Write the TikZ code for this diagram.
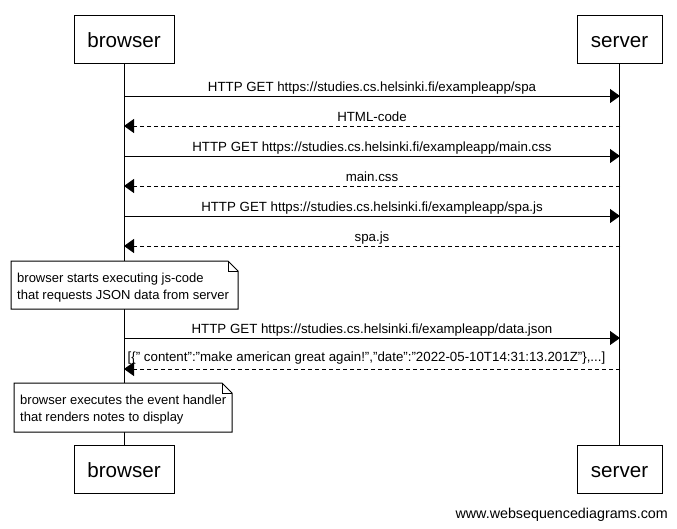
\documentclass[tikz,border=0pt]{standalone}
\usepackage{fontspec}
\setmainfont{Liberation Sans}
\usetikzlibrary{arrows.meta}
\begin{document}
\begin{tikzpicture}[x=1pt,y=-1pt,
  actor/.style={draw,line width=1pt,fill=white,minimum width=100pt,minimum height=48pt,inner sep=0pt,text height=20pt,text depth=4pt,font=\fontsize{20.6}{24}\selectfont},
  msg/.style={line width=1pt,-{Triangle[length=10pt,width=14pt]}},
  reply/.style={msg,dash pattern=on 4pt off 3pt},
  lbl/.style={anchor=base,inner sep=0pt,font=\fontsize{13.3}{15}\selectfont},
  notebox/.style={draw,line width=1pt,fill=white},
  notetxt/.style={anchor=north west,inner sep=0pt,align=left,font=\fontsize{13}{16.5}\selectfont},
  life/.style={line width=1pt}]
\useasboundingbox (0,0) rectangle (677,528);
% actors
\node[actor] (bt) at (124,39) {browser};
\node[actor,minimum width=85pt] (st) at (619.5,39) {server};
\node[actor] (bb) at (124,469) {browser};
\node[actor,minimum width=85pt] (sb) at (619.5,469) {server};
% lifelines
\draw[life] (bt.south) -- (bb.north);
\draw[life] (st.south) -- (sb.north);
% message coordinates
\foreach \n/\y in {1/96,2/126,3/156,4/186,5/216,6/246,7/338,8/369}{
  \coordinate (b\n) at (124,\y);
  \coordinate (s\n) at (620,\y);
}
\draw[msg] (b1) -- (s1);
\node[lbl] (l1) at (372,91) {HTTP GET https://studies.cs.helsinki.fi/exampleapp/spa};
\draw[reply] (s2) -- (b2);
\node[lbl] (l2) at (372,121) {HTML-code};
\draw[msg] (b3) -- (s3);
\node[lbl] (l3) at (372,151) {HTTP GET https://studies.cs.helsinki.fi/exampleapp/main.css};
\draw[reply] (s4) -- (b4);
\node[lbl] (l4) at (372,181) {main.css};
\draw[msg] (b5) -- (s5);
\node[lbl] (l5) at (372,211) {HTTP GET https://studies.cs.helsinki.fi/exampleapp/spa.js};
\draw[reply] (s6) -- (b6);
\node[lbl] (l6) at (372,241) {spa.js};
\draw[msg] (b7) -- (s7);
\node[lbl] (l7) at (372,333) {HTTP GET https://studies.cs.helsinki.fi/exampleapp/data.json};
\draw[reply] (s8) -- (b8);
\node[lbl] (l8) at (366.5,361) {[\{" content":"make american great again!","date":"2022-05-10T14:31:13.201Z"\},...]};
% note 1
\draw[notebox] (11,261) -- (228,261) -- (238,271) -- (238,309) -- (11,309) -- cycle;
\draw[line width=1pt] (228,261) -- (228,271) -- (238,271);
\node[notetxt] (n1) at (17,273) {browser starts executing js-code\\that requests JSON data from server};
% note 2
\draw[notebox] (14,383) -- (222,383) -- (232,393) -- (232,432) -- (14,432) -- cycle;
\draw[line width=1pt] (222,383) -- (222,393) -- (232,393);
\node[notetxt] (n2) at (20,395) {browser executes the event handler\\that renders notes to display};
% watermark
\node[anchor=base east,inner sep=0pt,font=\fontsize{14.3}{16}\selectfont] (wm) at (668,518) {www.websequencediagrams.com};
\end{tikzpicture}
\end{document}
